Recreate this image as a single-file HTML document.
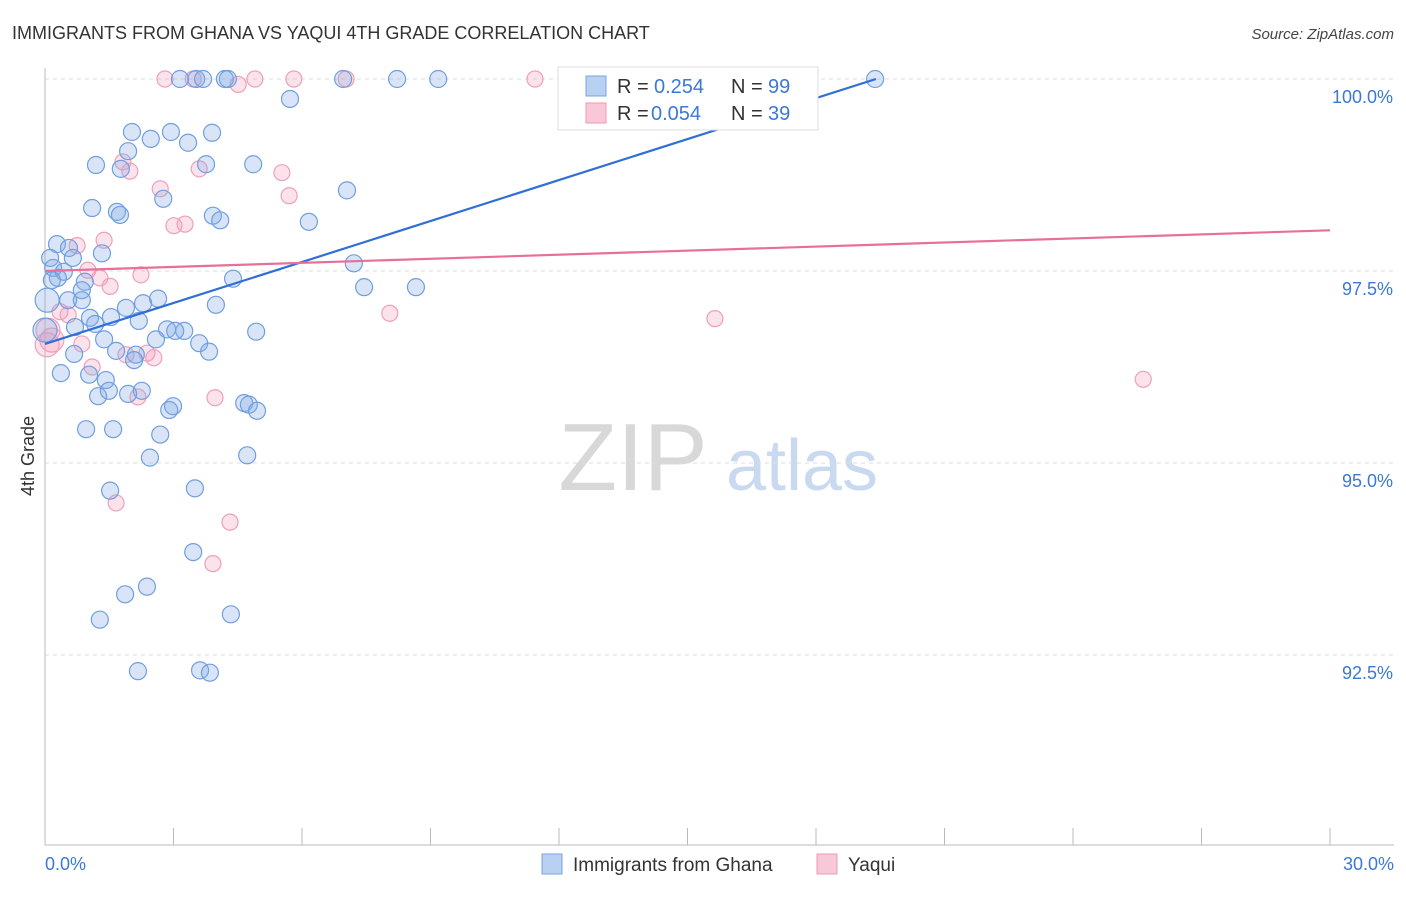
<!DOCTYPE html>
<html><head><meta charset="utf-8">
<style>
body{margin:0;background:#fff;font-family:"Liberation Sans",sans-serif;}
svg text{font-family:"Liberation Sans",sans-serif;}
</style></head>
<body>
<svg id="chart" width="1406" height="892" viewBox="0 0 1406 892" xmlns="http://www.w3.org/2000/svg">
<text x="12" y="39" font-size="18" fill="#333">IMMIGRANTS FROM GHANA VS YAQUI 4TH GRADE CORRELATION CHART</text>
<text x="1394" y="39" font-size="15" fill="#444" text-anchor="end" font-style="italic">Source: ZipAtlas.com</text>
<g>
<text x="633" y="490" font-size="96" fill="#d8d8d8" font-family="Liberation Serif, serif" text-anchor="middle">ZIP</text>
<text x="802" y="490" font-size="72" fill="#c9d9ef" text-anchor="middle">atlas</text>
</g>
<g id="grid"></g>
<g id="axes"></g>
<g id="points"></g>
<g id="trends"></g>
<text x="34" y="456" font-size="18" fill="#333" text-anchor="middle" transform="rotate(-90 34 456)">4th Grade</text>
<g>
<rect x="558" y="67" width="260" height="63" fill="#fff" stroke="#ddd"/>
<rect x="586" y="76" width="20" height="20" fill="#b8d0f2" stroke="#7aa5e0"/>
<text x="617" y="93" font-size="20" fill="#333">R = </text><text x="654" y="93" font-size="20" fill="#3b78d8">0.254</text>
<text x="731" y="93" font-size="20" fill="#333">N = </text><text x="768" y="93" font-size="20" fill="#3b78d8">99</text>
<rect x="586" y="103" width="20" height="20" fill="#f8c8d8" stroke="#ec9ab5"/>
<text x="617" y="120" font-size="20" fill="#333">R = </text><text x="651" y="120" font-size="20" fill="#3b78d8">0.054</text>
<text x="731" y="120" font-size="20" fill="#333">N = </text><text x="768" y="120" font-size="20" fill="#3b78d8">39</text>
</g>
<g>
<rect x="542" y="854" width="20" height="20" fill="#b8d0f2" stroke="#7aa5e0"/>
<text x="573" y="871" font-size="19" fill="#333">Immigrants from Ghana</text>
<rect x="817" y="854" width="20" height="20" fill="#f8c8d8" stroke="#ec9ab5"/>
<text x="848" y="871" font-size="19" fill="#333">Yaqui</text>
</g>
</svg>
<script>
const blueX=[3.15,3.53,3.69,4.2,4.27,6.96,8.22,9.18,19.38,5.72,2.03,2.94,3.9,2.47,3.34,1.94,1.19,3.76,4.86,1.77,7.05,2.76,1.1,1.68,1.75,3.92,4.09,6.16,0.28,0.56,1.33,0.12,0.65,0.19,0.44,0.3,0.16,0.93,4.39,7.21,7.45,8.66,0.86,0.54,0.86,2.64,2.29,1.89,3.99,1.05,1.54,1.17,2.19,0.7,2.85,3.25,3.04,4.93,1.38,2.59,3.6,1.66,0.68,2.12,3.83,2.08,0.37,1.03,1.42,2.26,1.24,1.94,1.49,2.99,2.9,4.65,4.76,4.95,0.96,1.59,2.69,2.45,4.72,1.52,3.5,3.46,1.87,2.38,1.28,4.34,2.17,3.62,3.85,0.05,0.0];
const blueY=[100,100,100,100,100,100,100,100,100,99.74,99.31,99.31,99.3,99.22,99.17,99.06,98.88,98.89,98.89,98.83,98.55,98.44,98.32,98.27,98.23,98.22,98.16,98.14,97.85,97.8,97.73,97.67,97.67,97.54,97.49,97.41,97.38,97.36,97.4,97.6,97.29,97.29,97.25,97.12,97.12,97.14,97.08,97.02,97.06,96.89,96.9,96.81,96.85,96.77,96.74,96.72,96.72,96.71,96.61,96.61,96.56,96.46,96.42,96.41,96.45,96.34,96.17,96.15,96.08,95.94,95.87,95.9,95.94,95.74,95.69,95.78,95.76,95.68,95.44,95.44,95.37,95.07,95.1,94.64,94.67,93.84,93.29,93.39,92.96,93.03,92.29,92.3,92.27,97.12,96.73];
const pinkX=[2.8,3.46,4.51,4.9,5.81,7.03,11.44,1.82,1.98,3.6,5.53,2.69,5.7,3.01,3.27,1.38,0.75,1.0,1.28,2.24,1.52,0.35,0.54,8.05,15.64,0.86,0.16,0.05,0.07,1.89,2.38,2.54,1.1,25.64,2.17,3.97,1.66,4.32,3.92];
const pinkY=[100,100,99.93,100,100,100,100,98.92,98.8,98.83,98.78,98.57,98.48,98.09,98.11,97.9,97.83,97.51,97.41,97.45,97.3,96.97,96.93,96.95,96.88,96.55,96.6,96.54,96.73,96.41,96.43,96.37,96.25,96.09,95.86,95.85,94.48,94.23,93.69];
const blueTrendX=[0,19.4], blueTrendY=[96.55,100];
const pinkTrendX=[0,30], pinkTrendY=[97.5,98.03];
const yTicks=[100,97.5,95,92.5];
const yTickLabels=["100.0%","97.5%","95.0%","92.5%"];
const xTickVals=[0,3,6,9,12,15,18,21,24,27,30];

const NS="http://www.w3.org/2000/svg";
const X=v=>45+v/30*1285;
const Y=v=>79+(100-v)/2.5*192;
function mk(tag,attrs,parent){const e=document.createElementNS(NS,tag);for(const k in attrs)e.setAttribute(k,attrs[k]);parent.appendChild(e);return e;}
const grid=document.getElementById('grid'),axes=document.getElementById('axes'),pts=document.getElementById('points'),tr=document.getElementById('trends');
yTicks.forEach((t,i)=>{
 const l=mk('line',{x1:45,x2:1394,y1:Y(t),y2:Y(t),stroke:'#ddd','stroke-dasharray':'4,4'},grid);
 
 
 const tx=mk('text',{x:1393,y:Y(t)+24,'font-size':18,fill:'#3b78d8','text-anchor':'end'},axes);
 tx.textContent=yTickLabels[i];
 
 
});
const ax=mk('line',{x1:45,x2:1394,y1:845,y2:845,stroke:'#bbb'},axes);


const ay=mk('line',{x1:45,x2:45,y1:68,y2:845,stroke:'#bbb'},axes);


xTickVals.forEach(v=>{
 const t=mk('line',{x1:X(v),x2:X(v),y1:828,y2:845,stroke:'#bbb'},axes);
 
 
});
const xl0=mk('text',{x:45,y:870,'font-size':18,fill:'#3b78d8'},axes);xl0.textContent="0.0%";


const xl1=mk('text',{x:1394,y:870,'font-size':18,fill:'#3b78d8','text-anchor':'end'},axes);xl1.textContent="30.0%";


pinkX.forEach((v,i)=>{
 const c=mk('circle',{cx:X(v),cy:Y(pinkY[i]),r:(v<0.2?12:8),fill:'rgba(244,160,190,0.3)',stroke:'#eea0bb','stroke-width':1.2},pts);
 
 
});
blueX.forEach((v,i)=>{
 const c=mk('circle',{cx:X(v),cy:Y(blueY[i]),r:(v<0.1?12:8.5),fill:'rgba(130,170,230,0.3)',stroke:'#6f9fe0','stroke-width':1.2},pts);
 
 
});
const bl=mk('line',{x1:X(blueTrendX[0]),y1:Y(blueTrendY[0]),x2:X(blueTrendX[1]),y2:Y(blueTrendY[1]),stroke:'#2f6fd6','stroke-width':2.2},tr);


const pl=mk('line',{x1:X(pinkTrendX[0]),y1:Y(pinkTrendY[0]),x2:X(pinkTrendX[1]),y2:Y(pinkTrendY[1]),stroke:'#e86f99','stroke-width':2.2},tr);


</script>
</body></html>
